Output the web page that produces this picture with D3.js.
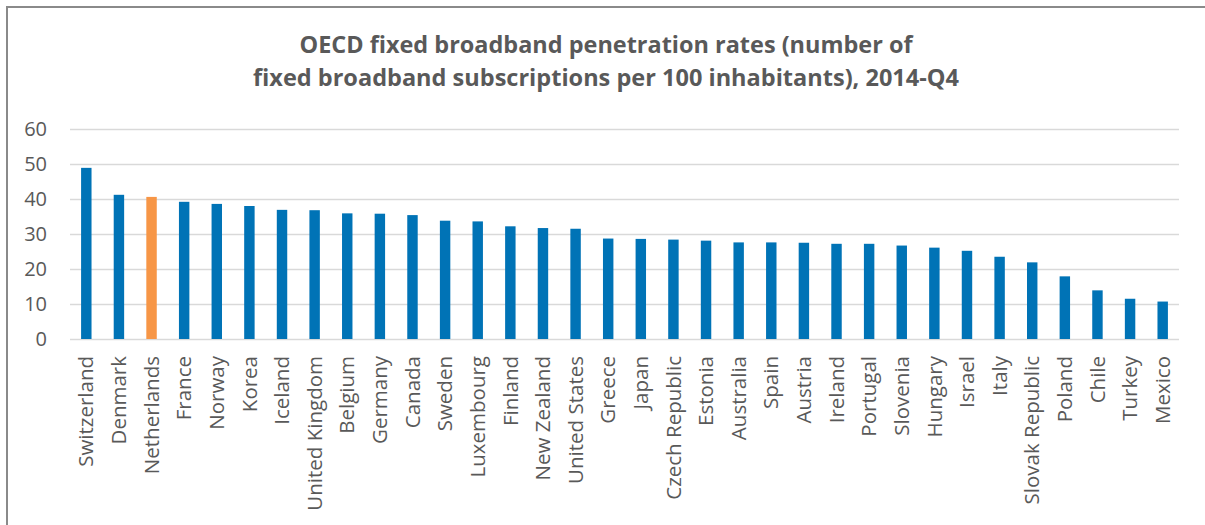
<!DOCTYPE html>
<html>
<head>
<meta charset="utf-8">
<script src="https://cdn.jsdelivr.net/npm/d3@7"></script>
<style>
  html, body { margin: 0; padding: 0; background: #fff; }
  svg { display: block; }
</style>
</head>
<body>
<div id="chart"></div>
<script>
// data
const countries = ['Switzerland', 'Denmark', 'Netherlands', 'France', 'Norway', 'Korea', 'Iceland',
  'United Kingdom', 'Belgium', 'Germany', 'Canada', 'Sweden', 'Luxembourg', 'Finland', 'New Zealand',
  'United States', 'Greece', 'Japan', 'Czech Republic', 'Estonia', 'Australia', 'Spain', 'Austria',
  'Ireland', 'Portugal', 'Slovenia', 'Hungary', 'Israel', 'Italy', 'Slovak Republic', 'Poland',
  'Chile', 'Turkey', 'Mexico'];
const rates = [48.9, 41.2, 40.6, 39.2, 38.6, 38.0, 36.9, 36.8, 35.9, 35.8, 35.4, 33.8, 33.6, 32.2, 31.7,
  31.5, 28.7, 28.6, 28.4, 28.1, 27.6, 27.6, 27.5, 27.2, 27.2, 26.7, 26.1, 25.2, 23.5, 21.9, 17.9,
  13.9, 11.5, 10.7];
const highlighted = ['Netherlands'];
const yTicks = [0, 10, 20, 30, 40, 50, 60];
const titleLines = ['OECD fixed broadband penetration rates (number of',
  'fixed broadband subscriptions per 100 inhabitants), 2014-Q4'];

const width = 1205, height = 525;
const margin = {top: 129, right: 26, bottom: 186, left: 70};
const innerW = width - margin.left - margin.right;
const innerH = height - margin.top - margin.bottom;
const textColor = '#595959';
const font = "'Open Sans', 'DejaVu Sans', sans-serif";

const svg = d3.select('#chart')
  .append('svg')
  .attr('width', width)
  .attr('height', height);

// chart frame
svg.append('rect')
  .attr('x', 7)
  .attr('y', 7)
  .attr('width', width + 20)
  .attr('height', height + 20)
  .attr('fill', '#fff')
  .attr('stroke', '#8a8a8a')
  .attr('stroke-width', 2);

// title, squeezed to the narrow width of the original font
const titleWidths = [613, 706];
const titleBase = [53, 86];
titleLines.forEach((line, i) => {
  svg.append('text')
    .attr('x', 606)
    .attr('y', titleBase[i])
    .attr('text-anchor', 'middle')
    .attr('textLength', titleWidths[i])
    .attr('lengthAdjust', 'spacingAndGlyphs')
    .style('font-family', font)
    .style('font-weight', 700)
    .style('font-size', '23.5px')
    .style('fill', textColor)
    .text(line);
});

const g = svg.append('g')
  .attr('transform', `translate(${margin.left},${margin.top})`);

const x = d3.scaleBand()
  .domain(countries)
  .range([0, innerW])
  .paddingInner(0.68)
  .paddingOuter(0.34);

const y = d3.scaleLinear()
  .domain([0, 60])
  .range([innerH, 0]);

// gridlines + y labels
const yAxis = g.append('g')
  .call(d3.axisLeft(y).tickValues(yTicks).tickSize(-innerW).tickPadding(23));
yAxis.select('.domain').remove();
yAxis.selectAll('.tick line')
  .attr('stroke', '#d9d9d9')
  .attr('stroke-width', 1.5);
yAxis.selectAll('.tick text')
  .style('font-family', font)
  .style('font-size', '20px')
  .style('fill', textColor);

// bars
g.selectAll('.bar')
  .data(countries)
  .enter()
  .append('rect')
  .attr('class', 'bar')
  .attr('x', d => x(d))
  .attr('y', (d, i) => y(rates[i]))
  .attr('width', x.bandwidth())
  .attr('height', (d, i) => innerH - y(rates[i]))
  .attr('fill', d => highlighted.includes(d) ? '#f79646' : '#0073b6');

// category labels
const xAxis = g.append('g')
  .attr('transform', `translate(0,${innerH})`)
  .call(d3.axisBottom(x).tickSize(0));
xAxis.select('.domain').remove();
xAxis.selectAll('.tick text')
  .attr('transform', 'rotate(-90)')
  .attr('x', -17)
  .attr('y', 0)
  .attr('dy', '0.35em')
  .style('text-anchor', 'end')
  .style('font-family', font)
  .style('font-size', '20.5px')
  .style('fill', textColor);
</script>
</body>
</html>
